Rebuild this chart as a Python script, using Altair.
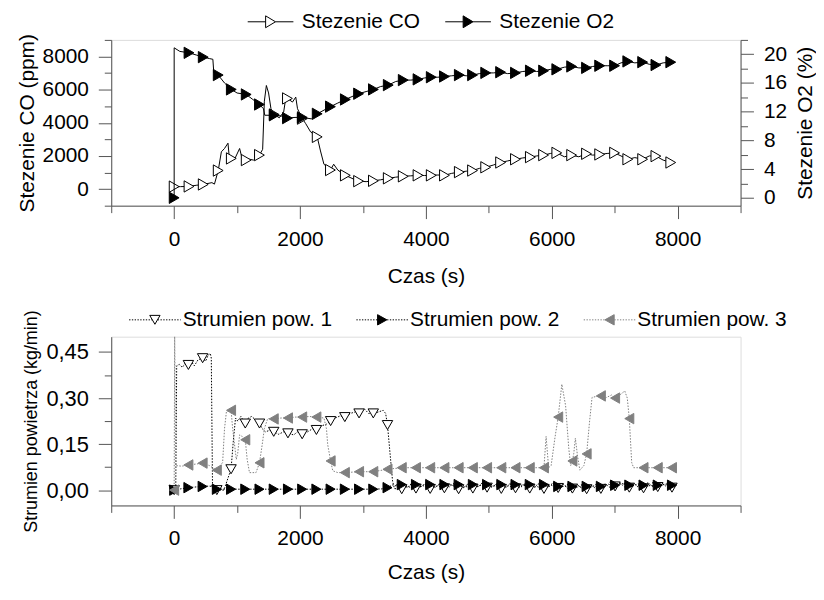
import altair as alt
import pandas as pd

FONT = "Liberation Sans"
AX = "#555555"
GREY = "#808080"

co_t = [0, 100, 236, 350, 462, 600, 640, 700, 750, 800, 855, 880, 908, 960, 1040, 1090, 1145,
        1200, 1260, 1330, 1355, 1406, 1433, 1465, 1500, 1538, 1590, 1670, 1740, 1774, 1800,
        1880, 1932, 1960, 2036, 2090, 2168, 2273, 2325, 2380, 2483, 2535, 2600, 2720, 2877,
        2930, 3050, 3166, 3280, 3402, 3520, 3640, 3760, 3875, 3980, 4085, 4190, 4295, 4410,
        4531, 4640, 4741, 4850, 4950, 5070, 5187, 5300, 5423, 5540, 5660, 5760, 5870, 5980,
        6080, 6200, 6316, 6430, 6552, 6650, 6761, 6880, 6998, 7100, 7208, 7320, 7444, 7550,
        7655, 7770, 7891]
co_v = [150, 150, 160, 230, 280, 390, 300, 1120, 2250, 2450, 2770, 1750, 1850, 1800, 2450,
        1700, 1750, 1800, 1750, 1900, 2050, 2400, 5300, 6250, 5800, 4850, 4500, 4300, 4650,
        5500, 5470, 5250, 5550, 4850, 4250, 3950, 3450, 3150, 2300, 1500, 1150, 1500, 1150,
        830, 560, 480, 450, 500, 560, 650, 720, 770, 800, 830, 820, 830, 850, 830, 950, 1025,
        1080, 1120, 1250, 1315, 1450, 1605, 1700, 1800, 1880, 1930, 2000, 2050, 2150, 2185,
        1950, 2050, 1950, 2130, 2050, 2090, 2150, 2185, 2000, 1800, 1900, 1800, 2000, 1990,
        1750, 1605]

o2_t = [0, 0, 90, 236, 350, 462, 560, 615, 630, 700, 800, 908, 1000, 1145, 1250, 1355, 1420,
        1440, 1590, 1700, 1800, 1920, 2036, 2180, 2273, 2483, 2600, 2720, 2930, 3050, 3166,
        3280, 3402, 3520, 3640, 3760, 3875, 3980, 4085, 4190, 4295, 4410, 4531, 4640, 4741,
        4850, 4950, 5070, 5187, 5300, 5423, 5540, 5660, 5760, 5870, 5980, 6080, 6200, 6316,
        6430, 6552, 6650, 6761, 6880, 6998, 7100, 7208, 7320, 7444, 7550, 7655, 7770, 7891]
o2_v = [0.0, 20.9, 20.4, 20.2, 19.9, 19.6, 19.4, 19.3, 17.4, 17.1, 16.0, 15.1, 14.6, 14.4,
        13.7, 13.0, 12.4, 11.5, 11.5, 11.4, 11.1, 11.2, 11.2, 11.0, 11.7, 12.7, 13.2, 13.7,
        14.5, 14.8, 15.1, 15.5, 15.7, 16.2, 16.4, 16.4, 16.5, 16.7, 16.8, 16.8, 16.9, 17.0,
        17.1, 17.0, 17.1, 17.3, 17.4, 17.4, 17.5, 17.3, 17.4, 17.6, 17.7, 17.6, 17.7, 17.9,
        17.9, 18.2, 18.3, 18.1, 18.1, 18.3, 18.4, 18.4, 18.4, 18.8, 19.0, 18.8, 18.9, 18.6,
        18.5, 18.8, 18.9]

mark_t_top = [0, 236, 462, 700, 908, 1145, 1355, 1590, 1800, 2036, 2273, 2483, 2720, 2930,
              3166, 3402, 3640, 3875, 4085, 4295, 4531, 4741, 4950, 5187, 5423, 5660, 5870,
              6080, 6316, 6552, 6761, 6998, 7208, 7444, 7655, 7891]
co_mark = [150, 160, 280, 1120, 1850, 1750, 2050, 4500, 5470, 4250, 3150, 1150, 830, 480,
           500, 650, 770, 830, 830, 830, 1025, 1120, 1315, 1605, 1800, 1930, 2050, 2185, 2050,
           2130, 2090, 2185, 1800, 1800, 1990, 1605]
o2_mark = [0.0, 20.2, 19.6, 17.1, 15.1, 14.4, 13.0, 11.5, 11.1, 11.2, 11.7, 12.7, 13.7, 14.5,
           15.1, 15.7, 16.4, 16.5, 16.8, 16.9, 17.1, 17.1, 17.4, 17.5, 17.4, 17.7, 17.7, 17.9,
           18.3, 18.1, 18.4, 18.4, 19.0, 18.9, 18.5, 18.9]

top_names = ["Stezenie CO", "Stezenie O2"]

s1_t = [0, 25, 40, 80, 130, 180, 226, 270, 320, 380, 452, 500, 540, 575, 590, 610, 678, 790,
        840, 904, 940, 975, 1010, 1060, 1130, 1180, 1230, 1300, 1356, 1400, 1450, 1520, 1582,
        1660, 1740, 1808, 1900, 1960, 2034, 2120, 2200, 2260, 2350, 2420, 2486, 2560, 2640,
        2712, 2800, 2880, 2938, 3020, 3090, 3164, 3250, 3320, 3360, 3390, 3430, 3470, 3500,
        3616, 3700, 3842, 3950, 4068, 4180, 4294, 4400, 4520, 4630, 4746, 4860, 4972, 5080,
        5198, 5310, 5424, 5540, 5650, 5760, 5876, 5990, 6102, 6210, 6328, 6440, 6554, 6670,
        6780, 6890, 7006, 7120, 7232, 7340, 7458, 7570, 7684, 7800, 7910]
s1_v = [0.0, 0.0, 0.405, 0.41, 0.40, 0.415, 0.408, 0.42, 0.405, 0.425, 0.43, 0.42, 0.44,
        0.445, 0.43, 0.0, 0.0, 0.0, 0.03, 0.068, 0.16, 0.235, 0.225, 0.24, 0.217, 0.235,
        0.24, 0.228, 0.217, 0.20, 0.19, 0.195, 0.19, 0.182, 0.19, 0.185, 0.18, 0.19, 0.182,
        0.19, 0.20, 0.196, 0.21, 0.215, 0.225, 0.235, 0.242, 0.238, 0.25, 0.255, 0.25, 0.265,
        0.25, 0.25, 0.255, 0.26, 0.25, 0.212, 0.12, 0.03, 0.005,
        0.003, 0.012, 0.005, 0.015, 0.004, 0.014, 0.006, 0.018, 0.003, 0.012, 0.005, 0.016,
        0.008, 0.015, 0.004, 0.014, 0.006, 0.018, 0.005, 0.012, 0.004, 0.016, 0.007, 0.014,
        0.005, 0.012, 0.003, 0.014, 0.004, 0.02, 0.012, 0.022, 0.008, 0.018, 0.006, 0.016,
        0.01, 0.02, 0.008]

s2_t = [0, 100, 226, 330, 452, 560, 600, 640, 678, 904, 1130, 1356, 1582, 1808, 2034, 2260,
        2486, 2712, 2938, 3164, 3300, 3390, 3480, 3560, 3616, 3700, 3780, 3842, 3920, 4000,
        4068, 4150, 4230, 4294, 4370, 4450, 4520, 4600, 4680, 4746, 4830, 4900, 4972, 5050,
        5130, 5198, 5280, 5350, 5424, 5500, 5580, 5650, 5730, 5800, 5876, 5950, 6030, 6102,
        6180, 6250, 6328, 6400, 6480, 6554, 6630, 6700, 6780, 6850, 6930, 7006, 7080, 7160,
        7232, 7310, 7380, 7458, 7530, 7610, 7684, 7760, 7840, 7910]
s2_v = [0.0, 0.004, 0.008, 0.01, 0.012, 0.013, 0.012, 0.003, 0.003, 0.003, 0.003, 0.003,
        0.003, 0.003, 0.003, 0.003, 0.003, 0.003, 0.003, 0.003, 0.004, 0.008, 0.018, 0.01,
        0.018, 0.008, 0.022, 0.018, 0.01, 0.024, 0.018, 0.009, 0.022, 0.018, 0.01, 0.024,
        0.018, 0.008, 0.022, 0.018, 0.01, 0.025, 0.018, 0.009, 0.022, 0.018, 0.01, 0.024,
        0.018, 0.008, 0.022, 0.018, 0.01, 0.024, 0.018, 0.01, 0.026, 0.012, 0.02, 0.006,
        0.012, 0.018, 0.006, 0.012, 0.016, 0.005, 0.012, 0.02, 0.008, 0.016, 0.024, 0.01,
        0.016, 0.022, 0.008, 0.016, 0.024, 0.01, 0.016, 0.022, 0.008, 0.016]

s3_t = [0, 8, 25, 120, 226, 350, 452, 560, 646, 678, 770, 800, 830, 880, 904, 930, 987, 1010,
        1040, 1080, 1130, 1160, 1197, 1300, 1356, 1400, 1433, 1486, 1582, 1700, 1808, 1920,
        2034, 2150, 2260, 2380, 2420, 2440, 2486, 2520, 2600, 2712, 2938, 3164, 3390, 3616,
        3842, 4068, 4294, 4520, 4746, 4972, 5198, 5424, 5650, 5850, 5876, 5910, 5950, 5990,
        6050, 6102, 6160, 6220, 6270, 6300, 6328, 6350, 6375, 6410, 6447, 6510, 6554, 6600,
        6640, 6700, 6780, 6850, 6950, 7006, 7080, 7160, 7200, 7232, 7270, 7300, 7458, 7684,
        7910]
s3_v = [0.0, 0.5, 0.08, 0.078, 0.082, 0.085, 0.088, 0.08, 0.068, 0.065, 0.09, 0.2, 0.255,
        0.262, 0.26, 0.2, 0.1, 0.12, 0.18, 0.175, 0.164, 0.1, 0.057, 0.057, 0.089, 0.15, 0.2,
        0.233, 0.232, 0.235, 0.235, 0.238, 0.238, 0.24, 0.238, 0.235, 0.2, 0.148, 0.095,
        0.063, 0.057, 0.057, 0.06, 0.06, 0.068, 0.073, 0.073, 0.073, 0.073, 0.073, 0.073,
        0.073, 0.073, 0.073, 0.073, 0.073, 0.073, 0.175, 0.073, 0.08, 0.17, 0.238, 0.345,
        0.275, 0.137, 0.08, 0.095, 0.12, 0.169, 0.11, 0.065, 0.08, 0.118, 0.222, 0.302, 0.305,
        0.307, 0.30, 0.31, 0.30, 0.31, 0.323, 0.30, 0.233, 0.09, 0.073, 0.073, 0.073, 0.073]

mark_t_bot = [0, 226, 452, 678, 904, 1130, 1356, 1582, 1808, 2034, 2260, 2486, 2712, 2938,
              3164, 3390, 3616, 3842, 4068, 4294, 4520, 4746, 4972, 5198, 5424, 5650, 5876,
              6102, 6328, 6554, 6780, 7006, 7232, 7458, 7684, 7910]
s1_mark = [0.0, 0.408, 0.43, 0.0, 0.068, 0.217, 0.217, 0.19, 0.185, 0.182, 0.196, 0.225,
           0.238, 0.25, 0.25, 0.212, 0.003, 0.005, 0.004, 0.006, 0.003, 0.005, 0.008, 0.004,
           0.006, 0.005, 0.004, 0.007, 0.005, 0.003, 0.004, 0.012, 0.008, 0.006, 0.01, 0.008]
s2_mark = [0.0, 0.008, 0.012, 0.003, 0.003, 0.003, 0.003, 0.003, 0.003, 0.003, 0.003, 0.003,
           0.003, 0.003, 0.003, 0.008, 0.018, 0.018, 0.018, 0.018, 0.018, 0.018, 0.018, 0.018,
           0.018, 0.018, 0.018, 0.012, 0.012, 0.012, 0.012, 0.016, 0.016, 0.016, 0.016, 0.016]
s3_mark = [0.0, 0.082, 0.088, 0.065, 0.26, 0.164, 0.089, 0.232, 0.235, 0.238, 0.238, 0.095,
           0.057, 0.06, 0.06, 0.068, 0.073, 0.073, 0.073, 0.073, 0.073, 0.073, 0.073, 0.073,
           0.073, 0.073, 0.073, 0.238, 0.095, 0.118, 0.307, 0.30, 0.233, 0.073, 0.073, 0.073]

bot_names = ["Strumien pow. 1", "Strumien pow. 2", "Strumien pow. 3"]

x_ticks = [-1000, 0, 1000, 2000, 3000, 4000, 5000, 6000, 7000, 8000, 9000]
co_ticks = [-1000, 0, 1000, 2000, 3000, 4000, 5000, 6000, 7000, 8000, 9000]
o2_ticks = [0, 2, 4, 6, 8, 10, 12, 14, 16, 18, 20, 22]
air_ticks = [0, 0.075, 0.15, 0.225, 0.3, 0.375, 0.45]

W = 634


def frame(t, v, name):
    return pd.DataFrame({"t": t, "v": v, "s": name})


def minor(test, big=13, small=7):
    return {"condition": {"test": test, "value": big}, "value": small}


def axis_style(**kw):
    base = dict(grid=False, domainColor=AX, tickColor=AX, domainWidth=1, tickWidth=1,
                labelColor="black", titleColor="black", labelFont=FONT, titleFont=FONT,
                labelFontSize=21, titleFontSize=21, titleFontWeight="normal",
                labelFlush=False, labelOverlap=False)
    base.update(kw)
    return alt.Axis(**base)


x_scale = alt.Scale(domain=[-1000, 9000], nice=False, zero=False)
X_LABELS = "datum.value >= 0 && datum.value % 2000 === 0 ? '' + datum.value : ''"


def x_enc(label_pad, title_pad):
    ax = axis_style(title="Czas (s)", values=x_ticks, labelExpr=X_LABELS,
                    tickSize=minor("datum.value % 2000 === 0"), labelPadding=label_pad,
                    titlePadding=title_pad)
    return alt.X("t:Q", scale=x_scale, axis=ax)


X_TOP = x_enc(10, 16)
X_BOT = x_enc(9, 14)

co_axis = axis_style(title="Stezenie CO (ppm)", orient="left", values=co_ticks,
                     labelExpr=X_LABELS,
                     tickSize=minor("datum.value % 2000 === 0"), labelPadding=10, titlePadding=5)
Y_CO = alt.Y("v:Q", scale=alt.Scale(domain=[-1000, 9000], nice=False, zero=False), axis=co_axis)

o2_axis = axis_style(title="Stezenie O2 (%)", orient="right", values=o2_ticks,
                     labelExpr="datum.value % 4 === 0 && datum.value <= 20 ? '' + datum.value : ''",
                     tickSize=minor("datum.value % 4 === 0"), labelPadding=10, titlePadding=8,
                     titleAngle=270, titleBaseline="top")
Y_O2 = alt.Y("v:Q", scale=alt.Scale(domain=[-1.1, 22], nice=False, zero=False), axis=o2_axis)

air_axis = axis_style(title="Strumien powietrza (kg/min)", orient="left", values=air_ticks,
                      titleFontSize=18, labelFontSize=22,
                      labelExpr="round(datum.value * 1000) % 150 === 0 ? replace(format(datum.value, '.2f'), '.', ',') : ''",
                      tickSize=minor("round(datum.value * 1000) % 150 === 0"), labelPadding=10,
                      titlePadding=5)
Y_AIR = alt.Y("v:Q", scale=alt.Scale(domain=[-0.05, 0.5], nice=False, zero=False), axis=air_axis)


def legend_path(tri, half, dotted):
    if dotted:
        segs = []
        x = -2.5
        while x < -half - 0.05:
            segs.append(f"M{x:.2f},0H{min(x + 0.13, -half):.2f}")
            x += 0.27
        x = half + 0.02
        while x < 2.45:
            segs.append(f"M{x:.2f},0H{min(x + 0.13, 2.5):.2f}")
            x += 0.27
        line = "".join(segs)
    else:
        line = f"M-2.5,0H{-half}M{half},0H2.5"
    return line + tri


TRI_R = "M-0.54,-0.65L0.54,0L-0.54,0.65Z"
top_paths = [legend_path(TRI_R, 0.54, False), legend_path(TRI_R, 0.54, False)]

bot_paths = [
    legend_path("M-0.5,-0.43L0.5,-0.43L0,0.43Z", 0.25, True),
    legend_path("M-0.45,-0.5L0.45,0L-0.45,0.5Z", 0.45, True),
    legend_path("M0.45,-0.5L-0.45,0L0.45,0.5Z", 0.45, True),
]


def legend_layer(names, paths, fills, strokes, size, lx, ly, loff, cpad):
    leg = alt.Legend(title=None, orient="none", legendX=lx, legendY=ly, direction="horizontal",
                     symbolSize=size, symbolStrokeWidth=1, labelFont=FONT, labelFontSize=21,
                     labelColor="black", labelOffset=loff, columnPadding=cpad, padding=0,
                     symbolOpacity=1)
    df = pd.DataFrame({"s": names})
    return alt.Chart(df).mark_point(size=size, opacity=1, filled=True).encode(
        shape=alt.Shape("s:N", scale=alt.Scale(domain=names, range=paths), legend=leg),
        fill=alt.Fill("s:N", scale=alt.Scale(domain=names, range=fills), legend=leg),
        stroke=alt.Stroke("s:N", scale=alt.Scale(domain=names, range=strokes), legend=leg),
    ).transform_filter("false")


co_df = frame(co_t, co_v, top_names[0])
o2_df = frame(o2_t, o2_v, top_names[1])
co_m = frame(mark_t_top, co_mark, top_names[0])
o2_m = frame(mark_t_top, o2_mark, top_names[1])

co_line = alt.Chart(co_df).mark_line(color="black", strokeWidth=1).encode(x=X_TOP, y=Y_CO)
co_pts = alt.Chart(co_m).mark_point(shape="triangle-right", size=130, filled=True, fill="white",
                                    stroke="black", strokeWidth=1, opacity=1).encode(x=X_TOP, y=Y_CO)
o2_line = alt.Chart(o2_df).mark_line(color="black", strokeWidth=1).encode(x=X_TOP, y=Y_O2)
o2_pts = alt.Chart(o2_m).mark_point(shape="triangle-right", size=130, filled=True, fill="black",
                                    stroke="black", strokeWidth=1, opacity=1).encode(x=X_TOP, y=Y_O2)

leg_top = legend_layer(top_names, top_paths, ["white", "black"], ["black", "black"], 339,
                       150, -29, 21, 22)

top = alt.layer(alt.layer(co_line, co_pts), alt.layer(o2_line, o2_pts), leg_top).resolve_scale(
    y="independent").properties(width=W, height=167)

s1_df = frame(s1_t, s1_v, bot_names[0])
s2_df = frame(s2_t, s2_v, bot_names[1])
s3_df = frame(s3_t, s3_v, bot_names[2])
s1_m = frame(mark_t_bot, s1_mark, bot_names[0])
s2_m = frame(mark_t_bot, s2_mark, bot_names[1])
s3_m = frame(mark_t_bot, s3_mark, bot_names[2])

DASH = [1.5, 1.5]
s1_line = alt.Chart(s1_df).mark_line(color="black", strokeWidth=1, strokeDash=DASH).encode(x=X_BOT, y=Y_AIR)
s1_pts = alt.Chart(s1_m).mark_point(shape="triangle-down", size=110, filled=True, fill="white",
                                    stroke="black", strokeWidth=1, opacity=1).encode(x=X_BOT, y=Y_AIR)
s2_line = alt.Chart(s2_df).mark_line(color="black", strokeWidth=1, strokeDash=DASH).encode(x=X_BOT, y=Y_AIR)
s2_pts = alt.Chart(s2_m).mark_point(shape="triangle-right", size=110, filled=True, fill="black",
                                    stroke="black", strokeWidth=1, opacity=1).encode(x=X_BOT, y=Y_AIR)
s3_line = alt.Chart(s3_df).mark_line(color=GREY, strokeWidth=1, strokeDash=DASH).encode(x=X_BOT, y=Y_AIR)
s3_pts = alt.Chart(s3_m).mark_point(shape="triangle-left", size=110, filled=True, fill=GREY,
                                    stroke=GREY, strokeWidth=1, opacity=1).encode(x=X_BOT, y=Y_AIR)

leg_bot = legend_layer(bot_names, bot_paths, ["white", "black", GREY], ["black", "black", GREY],
                       433, 33, -28, 17, 21)

bottom = alt.layer(s1_line, s1_pts, s2_line, s2_pts, s3_line, s3_pts, leg_bot).properties(
    width=W, height=170)

chart = alt.vconcat(top, bottom, spacing=21).resolve_scale(
    shape="independent", fill="independent", stroke="independent").resolve_legend(
    shape="independent", fill="independent", stroke="independent").properties(
    padding={"left": 7, "top": 0, "right": 0, "bottom": 0}).configure_view(
    stroke=None).configure(font=FONT)

chart.save("out.html", embed_options={"renderer": "svg", "actions": False})
